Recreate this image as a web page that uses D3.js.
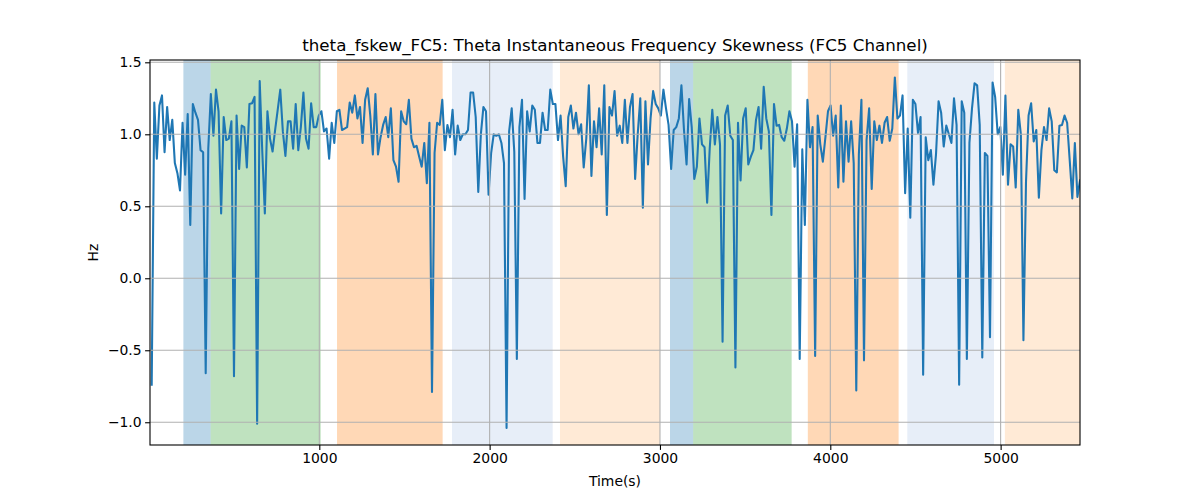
<!DOCTYPE html>
<html>
<head>
<meta charset="utf-8">
<script src="https://cdn.jsdelivr.net/npm/d3@7"></script>
<style>
  html, body { margin: 0; padding: 0; background: #fff; }
  svg { display: block; }
  text { font-family: "DejaVu Sans", sans-serif; fill: #000; }
</style>
</head>
<body>
<div id="chart"></div>
<script>
// ---- data ----
const chartTitle = "theta_fskew_FC5: Theta Instantaneous Frequency Skewness (FC5 Channel)";
const xLabel = "Time(s)";
const yLabel = "Hz";
const xTicks = [1000, 2000, 3000, 4000, 5000];
const yTicks = [-1.0, -0.5, 0.0, 0.5, 1.0, 1.5];
const firstTime = 16;
const lastTime = 5466;

const skewValues = [
  -0.74, 1.22, 0.83, 1.20, 1.27, 0.875, 1.19, 0.96, 1.10, 0.80,
  0.73, 0.61, 1.08, 0.72, 1.14, 0.37, 1.21, 1.15, 1.10, 0.89,
  0.875, -0.66, 0.90, 1.28, 0.99, 1.31, 1.16, 0.45, 1.12, 0.96,
  0.97, 1.09, -0.68, 1.13, 0.76, 1.06, 1.05, 0.77, 1.21, 1.215,
  1.26, -1.01, 1.37, 0.88, 0.45, 1.16, 0.97, 0.88, 1.03, 1.17,
  1.31, 1.02, 0.85, 1.09, 1.09, 0.90, 1.21, 0.89, 1.05,
  1.29, 0.97, 0.90, 1.215, 1.05, 1.05, 1.13, 1.16, 1.02, 1.04,
  0.83, 1.08, 0.94, 1.16, 1.17, 1.03, 1.04, 1.05, 1.22, 1.15,
  1.27, 1.11, 1.19, 0.94, 1.24, 1.32, 1.13, 0.86, 1.28, 0.86,
  0.98, 1.065, 1.12, 0.98, 1.18, 0.82, 0.775, 0.67, 1.16, 1.09,
  1.07, 1.24, 0.97, 0.91, 0.92, 0.845, 0.775, 0.94, 0.66, 1.08,
  -0.79, 0.87, 1.08, 1.065, 1.24, 0.89, 1.065, 0.98,
  1.17, 0.86, 1.06, 0.96, 1.00, 1.00, 1.03, 1.29, 1.29, 1.12,
  0.60, 1.00, 1.19, 1.16, 0.58, 0.87, 1.00, 0.99, 1.00, 0.94,
  0.80, -1.04, 1.02, 1.18, 0.88, -0.56, 1.05, 1.24, 0.55, 1.16,
  1.02, 1.20, 1.17, 0.94, 0.94, 1.15, 1.03, 1.03, 1.31, 1.21,
  1.21, 0.96, 1.13, 0.845, 0.64, 1.12, 1.20, 1.04, 1.15, 1.00,
  1.07, 0.77, 0.97, 1.34, 0.71, 1.09, 0.91, 1.18, 0.86, 1.34,
  0.44,
  1.19, 1.13, 1.30, 0.99, 1.06, 0.94, 1.24, 0.94, 1.19, 1.28,
  0.69, 1.00, 1.25, 0.49, 1.23, 0.79, 1.11, 1.30, 1.21, 1.18,
  1.13, 1.31, 1.18, 1.065, 0.76, 1.03, 1.05, 1.11, 1.34, 1.03,
  0.79, 1.245, 1.05, 0.69, 0.775, 1.11, 0.93, 0.91, 0.525, 0.90,
  1.17, 0.93, 1.12, 0.93, -0.44, 1.13, 1.20, 0.99, 0.96, -0.62,
  1.08, 0.68, 1.11, 1.18, 0.79, 0.845, 0.89, 1.10, 1.19, 0.90,
  1.33, 1.11, 1.02, 0.44, 1.21, 1.06, 1.065, 0.98, 0.955, 1.04,
  1.16, 1.09, 0.775, 1.07, -0.56, 0.895, 0.37, 1.24, 0.91, 1.05,
  -0.54, 1.13, 0.93, 0.81, 0.98, 1.16, 1.20, 0.99, 1.13, 0.63,
  1.20, 0.67, 1.09, 0.81, 1.09, 0.80, -0.78, 0.86, 1.24, -0.57,
  0.96, 1.18, 0.62, 1.09, 0.96, 1.06, 0.94, 1.08, 1.12, 0.955,
  1.04, 1.395, 1.11, 1.13, 1.27, 0.59, 1.04, 0.42, 1.24, 1.21,
  1.01,
  1.12, -0.67, 0.98, 0.82, 0.89, 0.65, 0.86, 1.23, 1.15, 0.915,
  1.06, 1.00, 0.94, 1.25, 1.065, -0.74, 1.23, 1.15, -0.56, 0.94,
  1.18, 1.355, 1.34, 1.065, -0.55, 0.87, 0.85, -0.41, 1.36, 1.26,
  1.00, 1.05, 0.72, 1.27, 0.65, 0.93, 0.915, 0.63, 1.17, 1.00,
  -0.43, 0.67, 1.13, 1.215, 0.95, 1.03, 0.56, 0.89, 1.05, 0.96,
  1.18, 1.09, 0.75, 0.735, 1.06, 1.065, 1.13, 1.08, 0.82, 0.555,
  0.94, 0.565, 0.68
];

// shaded segments: start, end (seconds), colour key
const spanStarts = [202, 362, 1104, 1779, 2413, 3059, 3195, 3868, 4452, 5025];
const spanEnds   = [362, 1008, 1724, 2370, 3000, 3195, 3773, 4401, 4961, 5466];
const spanKinds  = ["blue", "green", "orange", "lightblue", "lightorange",
                    "blue", "green", "orange", "lightblue", "lightorange"];

// ---- layout / styles ----
const W = 1200, H = 500;
const mLeft = 150, mRight = 1080, mTop = 60, mBottom = 445;
const spanColors = {
  blue: "#1f77b4", green: "#2ca02c", orange: "#ff7f0e",
  lightblue: "#aec7e8", lightorange: "#ffbb78"
};

const step = (lastTime - firstTime) / (skewValues.length - 1);
const series = skewValues.map((v, i) => ({ t: firstTime + i * step, v }));

const x = d3.scaleLinear().domain([6, 5466]).range([mLeft, mRight]);
const y = d3.scaleLinear().domain([-1.158, 1.516]).range([mBottom, mTop]);

const svg = d3.select("#chart").append("svg")
  .attr("width", W).attr("height", H);

svg.append("rect").attr("width", W).attr("height", H).attr("fill", "#fff");

const clip = svg.append("defs").append("clipPath").attr("id", "plotclip");
clip.append("rect").attr("x", mLeft).attr("y", mTop)
  .attr("width", mRight - mLeft).attr("height", mBottom - mTop);

const plot = svg.append("g").attr("clip-path", "url(#plotclip)");

// spans
plot.selectAll("rect.span")
  .data(spanStarts.map((s, i) => ({ s, e: spanEnds[i], k: spanKinds[i] })))
  .enter().append("rect")
  .attr("class", "span")
  .attr("x", d => x(d.s))
  .attr("width", d => x(d.e) - x(d.s))
  .attr("y", mTop).attr("height", mBottom - mTop)
  .attr("fill", d => spanColors[d.k])
  .attr("fill-opacity", 0.3);

// grid
const grid = svg.append("g");
grid.selectAll("line.gx").data(xTicks).enter().append("line")
  .attr("x1", d => x(d)).attr("x2", d => x(d))
  .attr("y1", mTop).attr("y2", mBottom)
  .attr("stroke", "#b0b0b0").attr("stroke-width", 1.1);
grid.selectAll("line.gy").data(yTicks).enter().append("line")
  .attr("y1", d => y(d)).attr("y2", d => y(d))
  .attr("x1", mLeft).attr("x2", mRight)
  .attr("stroke", "#b0b0b0").attr("stroke-width", 1.1);

// line
const line = d3.line().x(d => x(d.t)).y(d => y(d.v));
plot.append("path")
  .datum(series)
  .attr("d", line)
  .attr("fill", "none")
  .attr("stroke", "#1f77b4")
  .attr("stroke-width", 2.08)
  .attr("stroke-linejoin", "round")
  .attr("stroke-linecap", "square");

// axes
const xAxis = d3.axisBottom(x).tickValues(xTicks).tickSizeOuter(0)
  .tickSize(4.9).tickPadding(3.5).tickFormat(d3.format("d"));
const yAxis = d3.axisLeft(y).tickValues(yTicks).tickSizeOuter(0)
  .tickSize(4.9).tickPadding(3.5).tickFormat(d3.format(".1f"));

const gx = svg.append("g").attr("transform", `translate(0,${mBottom})`).call(xAxis);
const gy = svg.append("g").attr("transform", `translate(${mLeft},0)`).call(yAxis);
[gx, gy].forEach(g => {
  g.select(".domain").remove();
  g.selectAll(".tick line").attr("stroke", "#000").attr("stroke-width", 1.1);
  g.selectAll(".tick text").attr("font-size", "13.9px")
    .attr("font-family", "DejaVu Sans, sans-serif").attr("fill", "#000");
});

// spines
svg.append("rect")
  .attr("x", mLeft).attr("y", mTop)
  .attr("width", mRight - mLeft).attr("height", mBottom - mTop)
  .attr("fill", "none").attr("stroke", "#000").attr("stroke-width", 1.1);

// labels
svg.append("text").attr("x", (mLeft + mRight) / 2).attr("y", 51)
  .attr("text-anchor", "middle").attr("font-size", "16.7px").text(chartTitle);
svg.append("text").attr("x", (mLeft + mRight) / 2).attr("y", 485.5)
  .attr("text-anchor", "middle").attr("font-size", "13.9px").text(xLabel);
svg.append("text")
  .attr("transform", `translate(98,${(mTop + mBottom) / 2}) rotate(-90)`)
  .attr("text-anchor", "middle").attr("font-size", "13.9px").text(yLabel);
</script>
</body>
</html>
